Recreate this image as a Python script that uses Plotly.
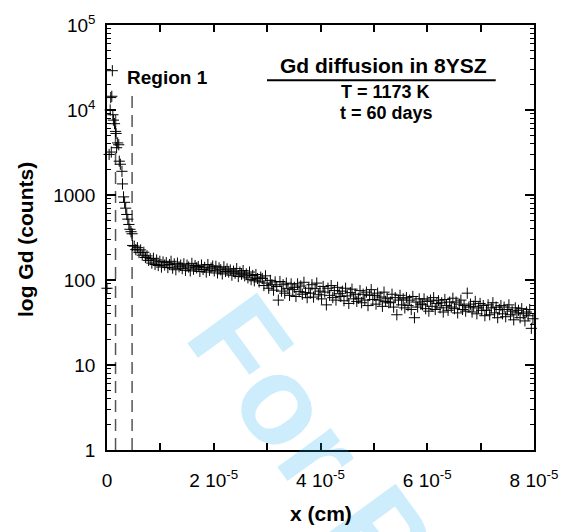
import plotly.graph_objects as go

# ---------------- data ----------------
# depth in units of 1e-7 cm
x_early = [0, 4, 6, 7, 8, 9, 10, 11, 12, 14, 16, 17, 18, 20, 22, 23, 25, 28, 29, 31,
           33, 35, 37, 39, 41, 43, 45, 47, 48]
counts_early = [80, 3000, 10000, 14000, 3200, 14500, 29000, 8800, 7600, 6900, 5600, 5300,
                3600, 4100, 3900, 2500, 2300, 1900, 1350, 950, 820, 700, 590, 520, 450,
                395, 370, 350, 255]

x_tail = [
    51, 54, 57, 60, 63, 66, 69, 72, 75, 78,
    81, 84, 87, 90, 93, 96, 99, 102, 105, 108,
    111, 114, 117, 120, 123, 126, 129, 132, 135, 138,
    141, 144, 147, 150, 153, 156, 159, 162, 165, 168,
    171, 174, 177, 180, 183, 186, 189, 192, 195, 198,
    201, 204, 207, 210, 213, 216, 219, 222, 225, 228,
    231, 234, 237, 240, 243, 246, 249, 252, 255, 258,
    261, 264, 267, 270, 273, 276, 279, 282, 285, 288,
    291, 294, 297, 300, 303, 306, 309, 312, 315, 318,
    321, 324, 327, 330, 333, 336, 339, 342, 345, 348,
    351, 354, 357, 360, 363, 366, 369, 372, 375, 378,
    381, 384, 387, 390, 393, 396, 399, 402, 405, 408,
    411, 414, 417, 420, 423, 426, 429, 432, 435, 438,
    441, 444, 447, 450, 453, 456, 459, 462, 465, 468,
    471, 474, 477, 480, 483, 486, 489, 492, 495, 498,
    501, 504, 507, 510, 513, 516, 519, 522, 525, 528,
    531, 534, 537, 540, 543, 546, 549, 552, 555, 558,
    561, 564, 567, 570, 573, 576, 579, 582, 585, 588,
    591, 594, 597, 600, 603, 606, 609, 612, 615, 618,
    621, 624, 627, 630, 633, 636, 639, 642, 645, 648,
    651, 654, 657, 660, 663, 666, 669, 672, 675, 678,
    681, 684, 687, 690, 693, 696, 699, 702, 705, 708,
    711, 714, 717, 720, 723, 726, 729, 732, 735, 738,
    741, 744, 747, 750, 753, 756, 759, 762, 765, 768,
    771, 774, 777, 780, 783, 786, 789, 792, 795, 798,
]
counts_tail = [
    250, 228, 240, 210, 226, 196, 212, 184, 192, 170,
    178, 158, 180, 152, 172, 148, 166, 142, 163, 150,
    160, 140, 152, 166, 138, 155, 132, 158, 143, 150,
    136, 155, 130, 150, 142, 128, 157, 134, 148, 139,
    144, 126, 150, 133, 141, 124, 152, 130, 138, 146,
    128, 145, 121, 139, 132, 118, 143, 126, 135, 124,
    131, 114, 127, 120, 136, 110, 124, 117, 129, 112,
    118, 106, 124, 101, 113, 98, 116, 104, 95, 108,
    104, 86, 112, 92, 80, 99, 88, 76, 95, 84,
    58, 96, 74, 88, 70, 92, 79, 66, 90, 77,
    82, 64, 90, 73, 85, 68, 94, 71, 62, 80,
    70, 88, 63, 79, 92, 67, 74, 60, 84, 72,
    51, 80, 66, 86, 62, 75, 58, 82, 69, 64,
    74, 57, 80, 65, 53, 71, 78, 60, 68, 56,
    61, 75, 54, 68, 58, 72, 50, 66, 77, 59,
    66, 52, 70, 58, 63, 49, 72, 56, 61, 54,
    55, 68, 48, 62, 39, 58, 66, 51, 60, 47,
    62, 50, 58, 45, 64, 36, 55, 48, 60, 52,
    51, 60, 46, 56, 43, 58, 49, 62, 45, 53,
    57, 47, 54, 42, 59, 50, 44, 55, 48, 61,
    46, 55, 41, 52, 58, 45, 50, 43, 70, 48,
    52, 42, 49, 56, 40, 47, 53, 44, 50, 38,
    44, 51, 39, 47, 54, 41, 48, 36, 45, 50,
    40, 48, 37, 45, 51, 39, 43, 34, 47, 41,
    44, 36, 46, 40, 33, 42, 38, 45, 27, 35,
]

x_tick_vals = [0, 1e-5, 2e-5, 3e-5, 4e-5, 5e-5, 6e-5, 7e-5, 8e-5]
x_tick_text = ["0", "", "2 10<sup>-5</sup>", "", "4 10<sup>-5</sup>", "",
               "6 10<sup>-5</sup>", "", "8 10<sup>-5</sup>"]
y_tick_vals = [1, 10, 100, 1000, 1e4, 1e5]
y_tick_text = ["1", "10", "100", "1000", "10<sup>4</sup>", "10<sup>5</sup>"]

region_x = [1.6e-6, 4.7e-6]      # dashed boundaries (cm)
region_top = [1.0e4, 1.5e4]      # top of dashed boundaries (counts)

# ---------------- layout helpers ----------------
W, H = 570, 532
L, R, T, B = 107, 28, 16, 82
PW, PH = W - L - R, H - T - B
FONT = "Liberation Sans, Arial, sans-serif"


def px(xp):
    return (xp - L) / PW


def py(yp):
    return (H - B - yp) / PH


x_all = [v * 1e-7 for v in x_early + x_tail]
y_all = counts_early + counts_tail

fig = go.Figure()

for bx, top in zip(region_x, region_top):
    fig.add_trace(go.Scatter(
        x=[bx, bx], y=[1, top], mode="lines",
        line=dict(color="#555555", width=1.5, dash="12px,7px"),
        showlegend=False, hoverinfo="skip"))

fig.add_trace(go.Scatter(
    x=x_all, y=y_all, mode="markers", cliponaxis=False,
    marker=dict(symbol="cross-thin", size=8, color="black",
                line=dict(width=1, color="black")),
    showlegend=False, hoverinfo="skip"))

axis_common = dict(
    showline=True, linecolor="black", linewidth=1.5, mirror="ticks",
    ticks="inside", tickcolor="black", tickwidth=1.5,
    showgrid=False, zeroline=False,
    tickfont=dict(family=FONT, size=19, color="black"),
)

minor_vals = [m * 10 ** e for e in range(5) for m in range(2, 10)]

fig.update_layout(
    width=W, height=H,
    margin=dict(l=L, r=R, t=T, b=B),
    paper_bgcolor="white", plot_bgcolor="white",
    font=dict(family=FONT, color="black"),
    xaxis=dict(range=[0, 8e-5], tickmode="array", tickvals=x_tick_vals,
               ticktext=x_tick_text, ticklen=7, ticklabelstandoff=12,
               **axis_common),
    yaxis=dict(type="log", range=[0, 5], tickmode="array", tickvals=y_tick_vals,
               ticktext=y_tick_text, ticklen=9, ticklabelstandoff=6,
               minor=dict(tickmode="array", tickvals=minor_vals, ticks="inside",
                          ticklen=4, tickcolor="black", tickwidth=1, showgrid=False),
               **axis_common),
)

# watermark (semi-transparent so the axis stays visible beneath it)
fig.add_annotation(text="<b>For Peer Review</b>", x=px(511), y=py(710),
                   xref="paper", yref="paper", xanchor="center", yanchor="middle",
                   showarrow=False, textangle=54,
                   font=dict(family=FONT, size=125, color="rgba(20,170,240,0.21)"))

# underline of the title box
fig.add_shape(type="line", xref="paper", yref="paper",
              x0=px(270), x1=px(503), y0=py(72.5), y1=py(72.5),
              line=dict(color="black", width=2))

ann = [
    ("<b>Gd diffusion in 8YSZ</b>", 389, 57, 21, "center", 0),
    ("<b>T = 1173 K</b>", 391, 84, 18, "center", 0),
    ("<b>t = 60 days</b>", 392, 106, 18, "center", 0),
    ("<b>Region 1</b>", 125, 70, 19, "left", 0),
    ("<b>x (cm)</b>", 324.5, 515, 21, "center", 0),
    ("<b>log Gd (counts)</b>", 24, 235, 21, "center", -90),
]
for text, xp, yp, size, xa, ang in ann:
    fig.add_annotation(text=text, x=px(xp), y=py(yp), xref="paper", yref="paper",
                       xanchor=xa, yanchor="middle", showarrow=False, textangle=ang,
                       font=dict(family=FONT, size=size, color="black"))

fig.write_html("out.html")
